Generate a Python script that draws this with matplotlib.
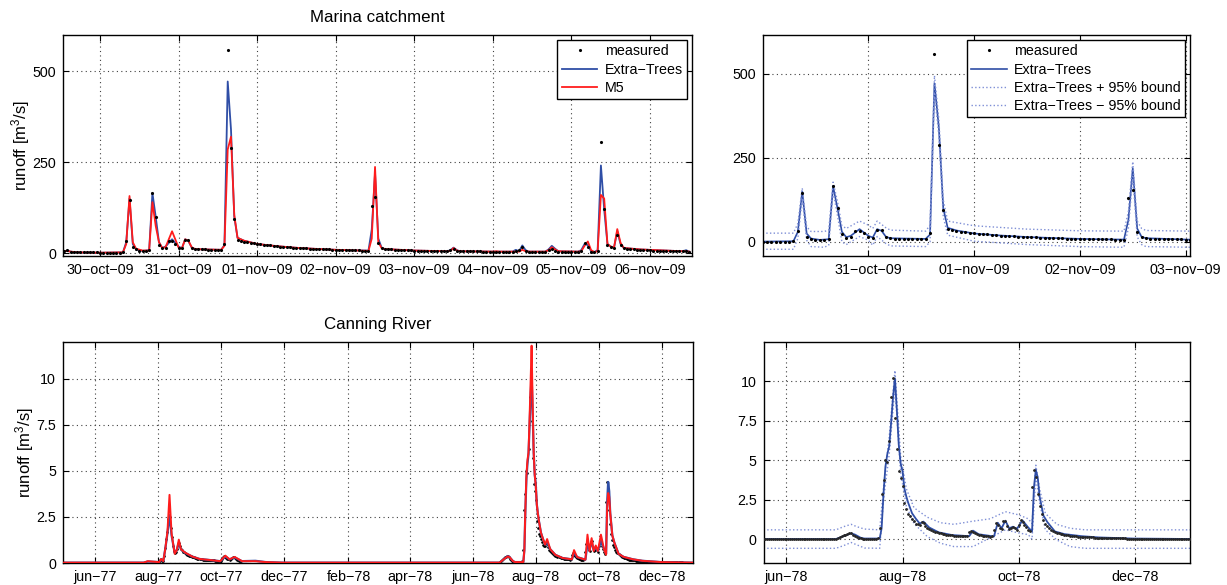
import pandas as pd
import matplotlib
matplotlib.use('Agg')
import matplotlib.pyplot as plt
import matplotlib.dates as mdates
from matplotlib.ticker import FixedLocator, FuncFormatter

plt.rcParams['font.family'] = ['Liberation Sans', 'DejaVu Sans']
plt.rcParams['font.size'] = 10.3
plt.rcParams['mathtext.default'] = 'regular'

BLUE = '#2f4ea6'
RED = '#ff1c1c'
BAND = '#7f8fd6'

# ---- Marina catchment (hourly runoff, m3/s) ----
marina_start = '2009-10-29 13:00'
marina_meas = [
    5, 8, 4, 3, 2, 2, 2, 2, 2, 2, 2,
    1, 1, 1, 1, 1, 1, 1, 3,
    33, 145, 16, 10, 7, 6, 6, 8,
    165, 100, 22, 13, 15, 33, 33, 25,
    15, 13, 35, 35, 15, 11, 10, 10,
    10, 9, 9, 9, 9, 9, 26, 560,
    289, 95, 37, 34, 31, 30, 28, 27,
    25, 24, 23, 22, 21, 20, 19, 18,
    17, 16.5, 16, 15, 14.5, 14, 13.5, 13,
    12.5, 12, 11.5, 11, 10.5, 10, 10, 9.5,
    9, 9, 8.5, 8.5, 8, 8, 7.5, 7.5,
    7, 7, 7, 130, 155, 29, 15, 11,
    10, 10, 9.5, 9, 9, 8.5, 8.5, 8,
    7, 7, 6.5, 6.5, 6, 6, 6, 5.5,
    5.5, 5, 6, 9, 12, 7, 5, 5,
    5, 5, 4.5, 4.5, 4.5, 4, 4, 4,
    4, 4, 4, 4, 4, 4, 4, 6,
    8, 18, 7, 4, 4, 4, 4, 4,
    4, 8, 10, 6, 4, 4, 4, 4,
    4, 4, 4, 6, 27, 16, 4, 3,
    5, 305, 121, 22, 18, 15, 50, 22,
    13, 12, 11, 10, 9.5, 9, 8.5, 8,
    7.5, 7, 7, 6.5, 6.5, 6, 6, 5.5,
    5.5, 5, 5, 6, 4,
]

# model output, hours after 30-oct-09 00:00
marina_hours = [
    -11, -10, -9, -7, 0, 7, 8, 9, 10, 11, 13, 15,
    16, 17, 18, 19, 20, 22, 24, 25, 26, 27, 28, 29,
    32, 37, 38, 39, 40, 41, 42, 44, 48, 54, 60, 66,
    72, 78, 82, 83, 84, 85, 86, 87, 96, 106, 107, 108,
    109, 110, 120, 121, 122, 123, 126, 127, 128, 129, 130, 131,
    136, 137, 138, 139, 140, 146, 147, 148, 149, 150, 151, 152,
    153, 154, 155, 156, 157, 158, 159, 160, 165, 170, 178, 179,
    180,
]
marina_et = [
    4, 7, 4, 2, 1, 2, 30, 150, 25, 10, 6, 8,
    165, 100, 30, 14, 18, 38, 18, 13, 38, 33, 15, 11,
    10, 9, 22, 472, 340, 100, 42, 34, 25, 19, 14.5, 11.5,
    9, 7.5, 7, 65, 219, 40, 15, 11, 7, 5, 8, 15,
    8, 5, 4, 4, 4, 4, 4, 9, 5, 21, 8, 4,
    4, 10, 20, 12, 5, 4, 8, 25, 22, 5, 3, 8,
    241, 120, 25, 18, 15, 60, 25, 14, 10, 8, 5, 8,
    4,
]
marina_m5 = [
    5, 6, 4, 2, 1, 2, 25, 157, 30, 12, 7, 7,
    140, 75, 30, 14, 16, 60, 15, 13, 38, 34, 16, 11,
    10, 9, 20, 285, 320, 105, 42, 34, 25, 19, 14.5, 11.5,
    9, 7.5, 6, 40, 237, 30, 14, 11, 7, 5, 6, 14,
    7, 5, 4, 5, 4, 4, 4, 4, 4, 9, 5, 4,
    4, 8, 16, 10, 5, 4, 5, 20, 32, 8, 3, 5,
    160, 150, 25, 18, 15, 66, 28, 14, 10, 8, 5, 5,
    4,
]

# 95% bounds of the Extra-Trees prediction
band_hours = [0, 7, 8, 9, 10, 11, 14, 15, 16, 17, 18, 19, 22, 24, 25, 26, 28,
              29, 37, 38, 39, 40, 41, 42, 48, 60, 72, 82, 83, 84, 85, 86, 87, 97]
band_up = [26, 26, 55, 160, 45, 31, 31, 35, 178, 120, 48, 40, 62, 50, 40, 62, 42,
           35, 32, 50, 495, 365, 125, 62, 48, 38, 33, 32, 90, 239, 62, 40, 34, 32]
band_lo = [-22, -22, 10, 130, 5, -14, -16, -10, 150, 78, 0, -8, 16, 5, -10, 16, -5,
           -12, -14, 0, 445, 315, 75, 20, 2, -8, -14, -16, 40, 195, 15, -8, -14, -16]

# ---- Canning River (daily runoff, m3/s) ----
can_dates = [
    '1977-05-01', '1977-07-18', '1977-07-22', '1977-07-30', '1977-08-02', '1977-08-04',
    '1977-08-06', '1977-08-08', '1977-08-10', '1977-08-12', '1977-08-14', '1977-08-17',
    '1977-08-19', '1977-08-21', '1977-08-23', '1977-08-27', '1977-09-03', '1977-09-10',
    '1977-09-22', '1977-09-30', '1977-10-05', '1977-10-09', '1977-10-14', '1977-10-21',
    '1977-11-03', '1977-11-13', '1977-11-29',
    '1978-06-27', '1978-07-01', '1978-07-05', '1978-07-07', '1978-07-10', '1978-07-12',
    '1978-07-20', '1978-07-21', '1978-07-22', '1978-07-23', '1978-07-24', '1978-07-25',
    '1978-07-26', '1978-07-27', '1978-07-28', '1978-07-29', '1978-07-30', '1978-07-31',
    '1978-08-01', '1978-08-02', '1978-08-03', '1978-08-04', '1978-08-06', '1978-08-08',
    '1978-08-10', '1978-08-12', '1978-08-15', '1978-08-20', '1978-08-27', '1978-09-05',
    '1978-09-07', '1978-09-10', '1978-09-18', '1978-09-20', '1978-09-22', '1978-09-24',
    '1978-09-26', '1978-09-28', '1978-09-30', '1978-10-03', '1978-10-06', '1978-10-08',
    '1978-10-09', '1978-10-10', '1978-10-11', '1978-10-12', '1978-10-14', '1978-10-16',
    '1978-10-20', '1978-10-25', '1978-11-03', '1978-11-12', '1978-11-30', '1978-12-31',
]
can_et = [
    0.02, 0.02, 0.08, 0.06, 0.05, 0.2,
    0.1, 0.8, 1.6, 2.6, 1.5, 0.55,
    0.7, 1.1, 0.75, 0.55, 0.35, 0.22,
    0.15, 0.1, 0.35, 0.2, 0.3, 0.1,
    0.12, 0.05, 0.02,
    0.02, 0.2, 0.38, 0.3, 0.1, 0.05,
    0.05, 0.7, 2.9, 4.6, 5.4, 5.9,
    7.4, 9.0, 10.2, 8.2, 6.0, 4.8,
    4.3, 3.2, 2.7, 2.3, 1.65, 1.3,
    1.0, 1.12, 0.75, 0.44, 0.27, 0.2,
    0.55, 0.32, 0.18, 1.05, 0.7, 1.18,
    0.7, 0.8, 0.65, 1.2, 0.75, 0.5,
    3.3, 4.4, 3.9, 2.7, 1.5, 1.1,
    0.5, 0.33, 0.2, 0.12, 0.05, 0.02,
]
can_m5 = [
    0.02, 0.02, 0.1, 0.06, 0.05, 0.22,
    0.1, 0.8, 1.7, 3.7, 1.6, 0.5,
    0.7, 1.27, 0.75, 0.57, 0.35, 0.22,
    0.15, 0.1, 0.4, 0.2, 0.33, 0.1,
    0.1, 0.05, 0.02,
    0.02, 0.2, 0.36, 0.3, 0.1, 0.05,
    0.05, 0.7, 3.0, 4.8, 5.6, 6.0,
    7.8, 9.8, 11.8, 8.6, 6.0, 4.8,
    4.2, 3.2, 2.7, 2.3, 1.65, 1.3,
    1.0, 1.3, 0.75, 0.44, 0.27, 0.2,
    0.7, 0.32, 0.18, 1.54, 0.65, 1.35,
    0.65, 0.95, 0.65, 1.54, 0.75, 0.45,
    3.0, 3.8, 3.6, 2.7, 1.5, 1.1,
    0.5, 0.33, 0.2, 0.12, 0.05, 0.02,
]

can_meas77_start = '1977-08-01'
can_meas77 = [
    0.05, 0.05, 0.15, 0.2, 0.12, 0.1, 0.4, 0.8, 1.3, 1.7, 2.4, 2.5, 1.9, 1.4, 0.9, 0.65,
    0.55, 0.6, 0.75, 1.0, 1.1, 0.9, 0.75, 0.68, 0.62, 0.58, 0.55, 0.5, 0.46, 0.43, 0.4,
    0.38, 0.36, 0.34, 0.32, 0.3, 0.28, 0.26, 0.24, 0.23, 0.22, 0.21, 0.2, 0.19, 0.18, 0.18,
    0.17, 0.17, 0.16, 0.16, 0.15, 0.15, 0.15, 0.14, 0.14, 0.13, 0.13, 0.12, 0.12, 0.11, 0.1,
    0.12, 0.2, 0.3, 0.38, 0.35, 0.28, 0.22, 0.2, 0.18, 0.22, 0.28, 0.3, 0.32, 0.28, 0.22,
    0.18, 0.15, 0.12, 0.1, 0.1,
]
can_meas78_start = '1978-05-20'
can_meas78 = [
    # may 20-31
    0.02, 0.02, 0.02, 0.02, 0.02, 0.02, 0.02, 0.02, 0.02, 0.02, 0.02, 0.02,
    # jun
    0.02, 0.02, 0.02, 0.02, 0.02, 0.02, 0.02, 0.02, 0.02, 0.02, 0.02, 0.02, 0.02, 0.02, 0.02,
    0.02, 0.02, 0.02, 0.02, 0.02, 0.02, 0.02, 0.02, 0.02, 0.02, 0.02, 0.05, 0.1, 0.15,
    # jul
    0.2, 0.25, 0.3, 0.35, 0.38, 0.38, 0.3, 0.2, 0.15, 0.1, 0.06, 0.05, 0.05, 0.05, 0.05,
    0.05, 0.05, 0.05, 0.05, 0.1, 0.7, 2.9, 3.75, 5.0, 4.9, 6.2, 9.0, 10.2, 7.7, 5.7, 4.3,
    # aug
    3.9, 3.4, 2.3, 1.9, 1.6, 1.45, 1.3, 1.15, 1.0, 0.95, 0.9, 1.1, 1.05, 0.85, 0.72, 0.65,
    0.58, 0.52, 0.48, 0.44, 0.4, 0.37, 0.34, 0.32, 0.3, 0.28, 0.27, 0.25, 0.24, 0.23, 0.22,
    # sep
    0.21, 0.2, 0.2, 0.19, 0.2, 0.45, 0.55, 0.45, 0.38, 0.32, 0.28, 0.25, 0.22, 0.2, 0.19,
    0.18, 0.17, 0.2, 0.6, 1.05, 0.9, 0.7, 0.65, 1.15, 1.18, 0.85, 0.65, 0.7, 0.8, 0.7,
    # oct
    0.62, 0.9, 1.22, 1.1, 0.9, 0.75, 0.6, 0.5, 3.3, 4.4, 3.96, 2.9, 2.1, 1.6, 1.25, 1.0,
    0.85, 0.72, 0.62, 0.55, 0.48, 0.43, 0.39, 0.35, 0.32, 0.29, 0.27, 0.25, 0.23, 0.21, 0.19,
    # nov
    0.18, 0.17, 0.16, 0.15, 0.15, 0.14, 0.13, 0.13, 0.12, 0.12, 0.11, 0.11, 0.1, 0.1, 0.09,
    0.09, 0.09, 0.08, 0.08, 0.08, 0.07, 0.07, 0.07, 0.06, 0.06, 0.06, 0.06, 0.05, 0.05, 0.05,
    # dec
    0.05, 0.05, 0.05, 0.04, 0.04, 0.04, 0.04, 0.04, 0.04, 0.04, 0.03, 0.03, 0.03, 0.03, 0.03,
    0.03, 0.03, 0.03, 0.03, 0.03, 0.03, 0.02, 0.02, 0.02, 0.02, 0.02, 0.02, 0.02, 0.02, 0.02, 0.02,
]

can_band_dates = [
    '1978-05-20', '1978-06-27', '1978-07-01', '1978-07-05', '1978-07-08', '1978-07-12',
    '1978-07-20', '1978-07-22', '1978-07-25', '1978-07-28', '1978-07-31', '1978-08-03',
    '1978-08-07', '1978-08-14', '1978-08-21', '1978-08-28', '1978-09-07', '1978-09-16',
    '1978-09-24', '1978-10-01', '1978-10-06', '1978-10-08', '1978-10-10', '1978-10-12',
    '1978-10-15', '1978-10-21', '1978-10-28', '1978-11-05', '1978-12-31',
]
can_up = [0.6, 0.6, 0.8, 0.95, 0.8, 0.65, 0.6, 3.3, 6.5, 10.7, 5.3, 3.2, 2.0, 1.4, 1.05,
          0.95, 1.15, 1.3, 1.75, 1.55, 1.3, 1.0, 4.7, 3.2, 1.64, 0.95, 0.7, 0.6, 0.6]
can_lo = [-0.57, -0.57, -0.4, -0.2, -0.35, -0.55, -0.57, 2.5, 5.4, 9.6, 4.2, 2.1, 1.0, 0.17,
          -0.25, -0.46, -0.46, 0.1, 0.6, 0.4, 0.3, 0.0, 3.9, 2.3, 0.6, -0.04, -0.46, -0.57, -0.57]

# ---- time axes ----
t0 = pd.Timestamp('2009-10-30 00:00')
m_meas_t = pd.date_range(marina_start, periods=len(marina_meas), freq='h')
m_model_t = t0 + pd.to_timedelta(marina_hours, unit='h')
m_band_t = t0 + pd.to_timedelta(band_hours, unit='h')

c_t = pd.to_datetime(can_dates)
c_band_t = pd.to_datetime(can_band_dates)
c_meas_t = pd.date_range(can_meas77_start, periods=len(can_meas77), freq='D').append(
    pd.date_range(can_meas78_start, periods=len(can_meas78), freq='D'))
c_meas = can_meas77 + can_meas78


def date_label(fmt):
    def f(x, pos):
        d = mdates.num2date(x)
        return d.strftime(fmt).lower().replace('-', '\u2212')
    return FuncFormatter(f)


def style_axes(ax, yticks, ylabels):
    ax.set_yticks(yticks)
    ax.set_yticklabels(ylabels)
    ax.tick_params(direction='in', length=4, top=True, right=True, labelsize=10.3, pad=5)
    ax.grid(True, linestyle=(0, (1, 3)), color='0.25', linewidth=0.8)
    for s in ax.spines.values():
        s.set_linewidth(1.0)


legend_kw = dict(loc='upper right', frameon=True, fancybox=False, edgecolor='k', framealpha=1,
                 borderaxespad=0.35, borderpad=0.3, labelspacing=0.3, handlelength=2.5,
                 handletextpad=0.5, fontsize=10.3)

fig = plt.figure(figsize=(12.27, 5.85), dpi=100)
ax1 = fig.add_axes([0.0513, 0.5624, 0.5127, 0.3778])
ax2 = fig.add_axes([0.6215, 0.5624, 0.3484, 0.3778])
ax3 = fig.add_axes([0.0513, 0.0376, 0.5135, 0.3778])
ax4 = fig.add_axes([0.6223, 0.0376, 0.3476, 0.3778])

ylab = 'runoff [m$^3$/s]'

# Marina: measured vs both models
ax1.plot(m_meas_t, marina_meas, '.', color='k', ms=2.5, label='measured', zorder=4)
ax1.plot(m_model_t, marina_et, '-', color=BLUE, lw=1.3, label='Extra\u2212Trees')
ax1.plot(m_model_t, marina_m5, '-', color=RED, lw=1.3, label='M5')
ax1.set_xlim(m_meas_t[0] - pd.Timedelta(minutes=20), m_meas_t[-1] + pd.Timedelta(minutes=50))
ax1.set_ylim(-8, 600)
ax1.xaxis.set_major_locator(FixedLocator(mdates.date2num(
    pd.date_range('2009-10-30', '2009-11-06', freq='D'))))
ax1.xaxis.set_major_formatter(date_label('%d-%b-%y'))
style_axes(ax1, [0, 250, 500], ['0', '250', '500'])
ax1.set_ylabel(ylab, fontsize=12, labelpad=0)
ax1.set_title('Marina catchment', fontsize=12.2, pad=9)
ax1.legend(**legend_kw)

# Marina: Extra-Trees with uncertainty bounds
ax2.plot(m_meas_t, marina_meas, '.', color='k', ms=2.5, label='measured', zorder=4)
ax2.plot(m_model_t, marina_et, '-', color=BLUE, lw=1.2, label='Extra\u2212Trees')
ax2.plot(m_band_t, band_up, ':', color=BAND, lw=1.0, label='Extra\u2212Trees + 95% bound')
ax2.plot(m_band_t, band_lo, ':', color=BAND, lw=1.0, label='Extra\u2212Trees \u2212 95% bound')
ax2.set_xlim(t0, t0 + pd.Timedelta(hours=97))
ax2.set_ylim(-42, 616)
ax2.xaxis.set_major_locator(FixedLocator(mdates.date2num(
    pd.date_range('2009-10-31', '2009-11-03', freq='D'))))
ax2.xaxis.set_major_formatter(date_label('%d-%b-%y'))
style_axes(ax2, [0, 250, 500], ['0', '250', '500'])
ax2.legend(**legend_kw)

# Canning River: measured vs both models
ax3.plot(c_meas_t, c_meas, '.', color='k', ms=1.8, zorder=1)
ax3.plot(c_t, can_et, '-', color=BLUE, lw=1.6, zorder=2)
ax3.plot(c_t, can_m5, '-', color=RED, lw=1.4, zorder=3)
ax3.set_xlim(pd.Timestamp('1977-05-01'), pd.Timestamp('1978-12-31'))
ax3.set_ylim(0, 12)
ax3.xaxis.set_major_locator(FixedLocator(mdates.date2num(
    pd.date_range('1977-06-01', '1978-12-01', freq='2MS'))))
ax3.xaxis.set_major_formatter(date_label('%b-%y'))
style_axes(ax3, [0, 2.5, 5, 7.5, 10], ['0', '2.5', '5', '7.5', '10'])
ax3.set_ylabel(ylab, fontsize=12, labelpad=0)
ax3.set_title('Canning River', fontsize=12.2, pad=9)

# Canning River: Extra-Trees with uncertainty bounds
ax4.plot(c_band_t, can_up, ':', color=BAND, lw=1.0)
ax4.plot(c_band_t, can_lo, ':', color=BAND, lw=1.0)
ax4.plot(c_t, can_et, '-', color=BLUE, lw=1.3)
ax4.plot(c_meas_t, c_meas, '.', color='0.15', ms=2.0, zorder=4)
ax4.set_xlim(pd.Timestamp('1978-05-20'), pd.Timestamp('1978-12-30'))
ax4.set_ylim(-1.5, 12.5)
ax4.xaxis.set_major_locator(FixedLocator(mdates.date2num(
    pd.date_range('1978-06-01', '1978-12-01', freq='2MS'))))
ax4.xaxis.set_major_formatter(date_label('%b-%y'))
style_axes(ax4, [0, 2.5, 5, 7.5, 10], ['0', '2.5', '5', '7.5', '10'])

fig.savefig('out.png', dpi=100)
